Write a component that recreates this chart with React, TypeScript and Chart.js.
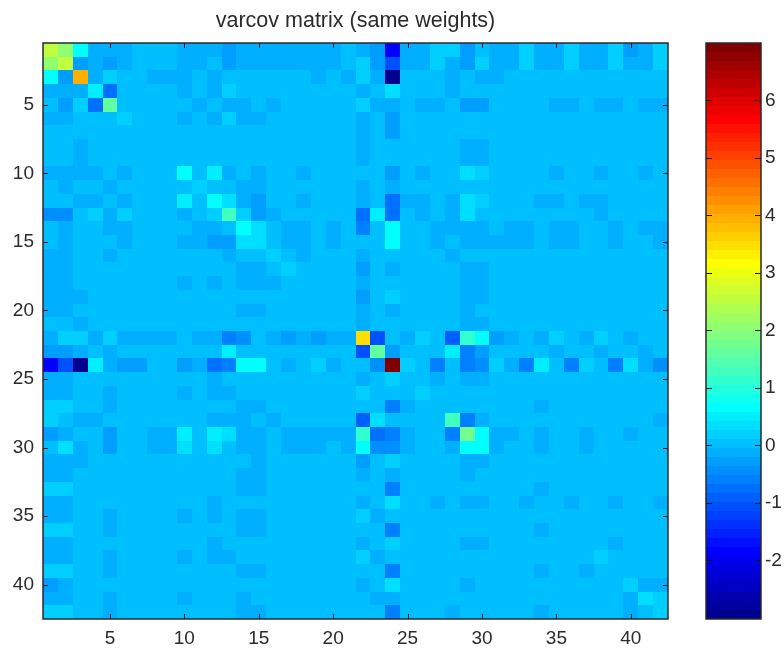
import React, { useEffect, useRef } from "react";
import { Chart, registerables } from "chart.js";

Chart.register(...registerables);

const title = "varcov matrix (same weights)";
const axisTicks = [5, 10, 15, 20, 25, 30, 35, 40];
const yMatrixTicks = [5, 10, 15, 20, 25, 30, 35, 40];
const colorbarTicks = [-2, -1, 0, 1, 2, 3, 4, 5, 6];
const size = 42;
const colorMin = -3.02;
const colorMax = 7;
const levelCount = 64;
const backgroundValue = 0;

// Sparse rows: column -> value; every other cell holds backgroundValue
const r01 = { 1: 2.5, 2: 2, 3: 0.6, 4: -0.1, 5: -0.1, 6: -0.1, 10: -0.1, 11: -0.1, 12: -0.1, 13: -0.25, 14: -0.1, 15: -0.1, 16: -0.1, 17: -0.1, 18: -0.1, 19: -0.1, 20: -0.1, 22: -0.1, 23: -0.25, 24: -1.85, 25: -0.1, 26: -0.1, 27: 0.15, 28: 0.15, 29: -0.25, 31: -0.1, 32: -0.1, 33: 0.15, 34: -0.1, 35: -0.1, 36: 0.15, 37: -0.1, 38: -0.1, 39: 0.15, 40: -0.25, 41: -0.1, 42: 0.15 };
const r02 = { 1: 2, 2: 2.5, 3: -0.25, 4: -0.1, 5: -0.25, 6: -0.1, 10: -0.1, 11: -0.1, 13: -0.25, 14: -0.1, 15: -0.1, 16: -0.1, 17: -0.1, 18: -0.1, 19: -0.1, 20: -0.1, 22: 0.15, 23: -0.25, 24: -1.05, 25: -0.1, 26: -0.1, 27: 0.15, 28: -0.1, 29: -0.25, 30: 0.15, 31: -0.1, 32: -0.1, 33: 0.15, 34: -0.1, 35: -0.1, 36: 0.15, 37: -0.1, 38: -0.1, 39: 0.15, 40: -0.1, 41: -0.1, 42: 0.15 };
const r03 = { 1: 0.6, 2: -0.25, 3: 3.95, 4: -0.1, 5: 0.15, 8: -0.1, 9: -0.1, 10: -0.1, 12: -0.1, 19: -0.1, 21: -0.1, 22: 0.15, 23: -0.1, 24: -2.95, 28: -0.1, 30: -0.1, 31: -0.1 };
const r04 = { 1: -0.1, 2: -0.1, 3: -0.1, 4: 0.5, 5: -0.7, 10: -0.1, 12: -0.1, 13: 0.15, 22: -0.1, 24: 0.4, 28: -0.1 };
const r05 = { 2: -0.25, 3: 0.15, 4: -0.7, 5: 1.6, 11: -0.1, 13: -0.1, 14: -0.1, 16: -0.1, 22: 0.15, 23: -0.1, 24: -0.1, 26: -0.1, 27: -0.1, 29: -0.25, 30: -0.25, 35: -0.1, 36: -0.1, 38: -0.1, 39: -0.1, 41: -0.1, 42: -0.1 };
const r06 = { 1: -0.1, 2: -0.1, 6: 0.15, 10: -0.1, 12: -0.1, 13: 0.15, 14: -0.1, 15: -0.1, 22: -0.1, 24: -0.25 };
const r07 = { 22: -0.1, 24: -0.25 };
const r08 = { 3: -0.1, 22: -0.1, 29: -0.1, 30: -0.1 };
const r09 = { 3: -0.1, 22: -0.1, 29: -0.1, 30: -0.1 };
const r10 = { 1: -0.1, 2: -0.1, 3: -0.1, 4: -0.1, 6: -0.1, 10: 0.6, 12: 0.5, 13: -0.1, 15: -0.1, 18: -0.1, 24: -0.25, 26: -0.1, 29: 0.3, 30: 0.15, 35: -0.1, 38: -0.1, 41: -0.1 };
const r11 = { 2: -0.1, 5: -0.1, 11: 0.15, 14: -0.1, 15: -0.1, 22: -0.1, 24: -0.1 };
const r12 = { 3: -0.1, 4: -0.1, 6: -0.1, 10: 0.5, 12: 0.6, 13: 0.3, 14: -0.1, 15: -0.25, 18: -0.1, 22: -0.1, 24: -0.7, 25: -0.1, 26: -0.1, 28: -0.1, 29: 0.3, 30: 0.15, 34: -0.1, 35: -0.1, 37: -0.1, 38: -0.1 };
const r13 = { 1: -0.4, 2: -0.4, 4: 0.15, 5: -0.1, 6: 0.15, 10: -0.1, 12: 0.15, 13: 1.3, 14: 0.15, 15: -0.25, 16: -0.1, 22: -0.7, 23: 0.5, 24: -0.7, 26: -0.1, 28: -0.1, 29: 0.3, 38: -0.1 };
const r14 = { 2: -0.1, 5: -0.1, 6: -0.1, 11: -0.1, 12: -0.1, 14: 0.6, 15: 0.3, 17: -0.1, 18: -0.1, 20: -0.1, 22: -0.55, 24: 0.6, 27: -0.1, 28: -0.1, 29: -0.1, 30: -0.1, 32: -0.1, 33: -0.1, 35: -0.1, 36: -0.1, 39: -0.1, 41: -0.1, 42: -0.1 };
const r15 = { 2: -0.1, 6: -0.1, 10: -0.1, 11: -0.1, 12: -0.25, 13: -0.25, 14: 0.3, 15: 0.3, 17: -0.1, 18: -0.1, 20: -0.1, 24: 0.6, 27: -0.1, 29: -0.1, 30: -0.1, 31: -0.1, 32: -0.1, 33: -0.1, 35: -0.1, 36: -0.1, 39: -0.1, 42: -0.1 };
const r16 = { 1: -0.1, 2: -0.1, 5: -0.1, 13: -0.1, 16: 0.15, 18: -0.1, 22: -0.1, 28: -0.1 };
const r17 = { 1: -0.1, 2: -0.1, 14: -0.1, 15: -0.1, 17: 0.15, 22: -0.25, 24: -0.1, 29: -0.1, 30: -0.1 };
const r18 = { 1: -0.1, 2: -0.1, 10: -0.1, 12: -0.1, 14: -0.1, 15: -0.1, 16: -0.1, 22: -0.1, 29: -0.1, 30: -0.1 };
const r19 = { 1: -0.1, 2: -0.1, 3: -0.1, 22: -0.25, 24: 0.15, 29: -0.1, 30: -0.1 };
const r20 = { 1: -0.1, 2: -0.1, 14: -0.1, 15: -0.1, 22: -0.1, 24: -0.1, 29: -0.1 };
const r21 = { 3: -0.1, 22: -0.1, 29: -0.1, 30: -0.1 };
const r22 = { 1: -0.1, 2: 0.15, 3: 0.15, 4: -0.1, 5: 0.15, 6: -0.1, 7: -0.1, 8: -0.1, 9: -0.1, 11: -0.1, 12: -0.1, 13: -0.55, 14: -0.4, 16: -0.1, 17: -0.25, 18: -0.1, 19: -0.25, 20: -0.1, 21: -0.1, 22: 3.48, 23: -1.05, 25: -0.1, 26: 0.15, 28: -0.85, 29: 1.1, 30: 0.6, 31: -0.25, 32: -0.1, 34: -0.1, 35: 0.15, 37: -0.1, 38: 0.15, 40: -0.1 };
const r23 = { 1: -0.25, 2: -0.25, 3: -0.1, 5: -0.1, 13: 0.5, 22: -1.05, 23: 1.6, 24: -0.25, 28: 0.5, 29: -0.55, 30: -0.25, 35: -0.1, 38: -0.1, 41: -0.1 };
const r24 = { 1: -1.85, 2: -1.05, 3: -2.95, 4: 0.5, 5: -0.1, 6: -0.25, 7: -0.25, 10: -0.25, 11: -0.1, 12: -0.7, 13: -0.55, 14: 0.6, 15: 0.6, 17: -0.1, 19: 0.15, 20: -0.1, 23: -0.4, 24: 7, 25: 0.15, 27: -0.55, 29: -0.55, 30: -0.4, 31: 0.15, 32: -0.1, 33: -0.55, 34: 0.5, 36: -0.55, 37: 0.15, 39: -0.55, 40: 0.4, 41: -0.1, 42: -0.4 };
const r25 = { 1: -0.1, 2: -0.1, 12: -0.1, 22: -0.1, 24: 0.15, 27: -0.1, 29: -0.1, 30: -0.1 };
const r26 = { 1: -0.1, 2: -0.1, 5: -0.1, 10: -0.1, 12: -0.1, 13: -0.1, 22: 0.15, 26: 0.15 };
const r27 = { 1: 0.15, 2: 0.15, 5: -0.1, 14: -0.1, 15: -0.1, 24: -0.55, 25: -0.1, 34: -0.1 };
const r28 = { 1: 0.15, 3: -0.1, 4: -0.1, 12: -0.1, 13: -0.1, 14: -0.1, 16: -0.1, 22: -0.85, 23: 0.3, 28: 1.3, 29: -0.55, 30: -0.1, 42: -0.1 };
const r29 = { 1: -0.25, 2: -0.1, 5: -0.25, 8: -0.1, 9: -0.1, 10: 0.5, 12: 0.5, 13: 0.3, 14: -0.1, 15: -0.1, 17: -0.1, 18: -0.1, 19: -0.1, 20: -0.1, 21: -0.1, 22: 1.1, 23: -0.7, 24: -0.55, 25: -0.1, 28: -0.55, 29: 1.7, 30: 0.6, 31: -0.1, 32: -0.1, 34: -0.1, 37: -0.1, 40: -0.1 };
const r30 = { 2: 0.3, 3: -0.1, 5: -0.25, 8: -0.1, 9: -0.1, 10: 0.3, 12: 0.3, 14: -0.1, 15: -0.1, 17: -0.1, 18: -0.1, 19: -0.1, 21: -0.1, 22: 0.6, 23: -0.4, 24: -0.4, 25: -0.1, 28: -0.1, 29: 0.6, 30: 0.6, 31: -0.1, 34: -0.1, 37: -0.1 };
const r31 = { 1: -0.1, 2: -0.1, 3: -0.1, 15: -0.1, 22: -0.25, 24: 0.15, 29: -0.1, 30: -0.1 };
const r32 = { 1: -0.1, 2: -0.1, 14: -0.1, 15: -0.1, 22: -0.1, 24: -0.1, 29: -0.1 };
const r33 = { 1: 0.15, 2: 0.15, 14: -0.1, 15: -0.1, 24: -0.55, 34: -0.1 };
const r34 = { 1: -0.1, 2: -0.1, 12: -0.1, 22: -0.1, 24: 0.4, 27: -0.1, 29: -0.1, 30: -0.1, 33: -0.1, 36: -0.1, 39: -0.1, 42: -0.1 };
const r35 = { 1: -0.1, 2: -0.1, 5: -0.1, 10: -0.1, 12: -0.1, 14: -0.1, 15: -0.1, 22: 0.15, 23: -0.1 };
const r36 = { 1: 0.15, 2: 0.15, 5: -0.1, 14: -0.1, 15: -0.1, 24: -0.55, 34: -0.1 };
const r37 = { 1: -0.1, 2: -0.1, 12: -0.1, 22: -0.1, 24: 0.15, 29: -0.1, 30: -0.1, 39: -0.1 };
const r38 = { 1: -0.1, 2: -0.1, 5: -0.1, 10: -0.1, 12: -0.1, 13: -0.1, 22: 0.15, 23: -0.1, 38: 0.15 };
const r39 = { 1: 0.15, 2: 0.15, 5: -0.1, 14: -0.1, 15: -0.1, 24: -0.55, 34: -0.1, 37: -0.1 };
const r40 = { 1: -0.25, 2: -0.1, 22: -0.1, 24: 0.3, 29: -0.1, 40: 0.15, 41: -0.1, 42: -0.1 };
const r41 = { 1: -0.1, 2: -0.1, 5: -0.1, 10: -0.1, 14: -0.1, 23: -0.1, 24: -0.1, 40: -0.1, 41: 0.3, 42: 0.15 };
const r42 = { 1: 0.15, 2: 0.15, 5: -0.1, 14: -0.1, 15: -0.1, 24: -0.55, 28: -0.1, 34: -0.1, 40: -0.1, 42: 0.15 };
const sparseRows: Record<number, number>[] = [r01, r02, r03, r04, r05, r06, r07, r08, r09, r10, r11, r12, r13, r14, r15, r16, r17, r18, r19, r20, r21, r22, r23, r24, r25, r26, r27, r28, r29, r30, r31, r32, r33, r34, r35, r36, r37, r38, r39, r40, r41, r42];

const FRAME = "#2a2a2a";
const TEXT = "#2b2b2b";
const FONT = { family: "'Liberation Sans', Arial, sans-serif", size: 19, weight: "normal" as const };

function jetU(k: number): number {
  if (k < 1 || k > 47) return 0;
  if (k <= 16) return k / 16;
  if (k <= 31) return 1;
  return (48 - k) / 16;
}
function jetLevel(i: number): string {
  const n = i + 1;
  const c = (v: number) => Math.round(v * 255);
  return `rgb(${c(jetU(n - 24))},${c(jetU(n - 8))},${c(jetU(n + 8))})`;
}
function colorFor(v: number): string {
  const idx = Math.floor(((v - colorMin) / (colorMax - colorMin)) * levelCount);
  return jetLevel(Math.max(0, Math.min(levelCount - 1, idx)));
}

const matrixPoints: { x: number; y: number; v: number }[] = [];
sparseRows.forEach((row, r) => {
  for (let c = 1; c <= size; c++) {
    matrixPoints.push({ x: c, y: r + 1, v: row[c] ?? backgroundValue });
  }
});
const levelPoints = Array.from({ length: levelCount }, (_, i) => ({
  x: 0,
  y: colorMin + ((i + 0.5) * (colorMax - colorMin)) / levelCount,
  i,
}));

const cellPlugin = {
  id: "cells",
  beforeDatasetsDraw(chart: any) {
    const { ctx, scales } = chart;
    const pts = chart.data.datasets[0].data as any[];
    const isBar = chart.options.plugins.cells.colorbar;
    ctx.save();
    for (const p of pts) {
      let x0, x1, y0, y1;
      if (isBar) {
        const half = (colorMax - colorMin) / levelCount / 2;
        x0 = chart.chartArea.left;
        x1 = chart.chartArea.right;
        y0 = scales.y.getPixelForValue(p.y + half);
        y1 = scales.y.getPixelForValue(p.y - half);
        ctx.fillStyle = jetLevel(p.i);
      } else {
        x0 = scales.x.getPixelForValue(p.x - 0.5);
        x1 = scales.x.getPixelForValue(p.x + 0.5);
        y0 = scales.y.getPixelForValue(p.y - 0.5);
        y1 = scales.y.getPixelForValue(p.y + 0.5);
        ctx.fillStyle = colorFor(p.v);
      }
      const l = Math.round(x0), r = Math.round(x1), t = Math.round(y0), b = Math.round(y1);
      ctx.fillRect(l, t, r - l, b - t);
    }
    ctx.restore();
  },
  afterDatasetsDraw(chart: any) {
    const { ctx, chartArea: a, scales } = chart;
    const len = chart.options.plugins.cells.tickLength;
    ctx.save();
    ctx.strokeStyle = "#111";
    ctx.lineWidth = 1;
    ctx.beginPath();
    for (const t of scales.y.ticks) {
      const y = Math.round(scales.y.getPixelForValue(t.value)) + 0.5;
      ctx.moveTo(a.left, y);
      ctx.lineTo(a.left + len, y);
      ctx.moveTo(a.right, y);
      ctx.lineTo(a.right - len, y);
    }
    if (scales.x.options.display) {
      for (const t of scales.x.ticks) {
        const x = Math.round(scales.x.getPixelForValue(t.value)) + 0.5;
        ctx.moveTo(x, a.top);
        ctx.lineTo(x, a.top + len);
        ctx.moveTo(x, a.bottom);
        ctx.lineTo(x, a.bottom - len);
      }
    }
    ctx.stroke();
    ctx.strokeStyle = FRAME;
    ctx.lineWidth = 1.5;
    ctx.strokeRect(a.left, a.top, a.right - a.left, a.bottom - a.top);
    ctx.restore();
  },
};

const canvasStyle: React.CSSProperties = { position: "absolute", left: 0, top: 0, width: 784, height: 648 };

export default function App() {
  const matrixRef = useRef<HTMLCanvasElement>(null);
  const barRef = useRef<HTMLCanvasElement>(null);

  useEffect(() => {
    const matrix = new Chart(matrixRef.current!, {
      type: "scatter",
      data: { datasets: [{ data: matrixPoints, pointRadius: 0, pointHitRadius: 0 }] },
      plugins: [cellPlugin],
      options: {
        animation: false,
        responsive: false,
        events: [],
        layout: { padding: { right: 116, left: 0, top: 0, bottom: 0 } },
        plugins: {
          legend: { display: false },
          tooltip: { enabled: false },
          title: {
            display: true,
            text: title,
            fullSize: false,
            color: TEXT,
            font: { family: FONT.family, size: 21.5, weight: "normal" },
            padding: { top: 8, bottom: 9.2 },
          },
          cells: { colorbar: false, tickLength: 5 },
        } as any,
        scales: {
          x: {
            type: "linear",
            min: 0.5,
            max: size + 0.5,
            grid: { display: false, drawTicks: false },
            border: { display: false },
            afterBuildTicks: (s: any) => { s.ticks = axisTicks.map((value) => ({ value })); },
            afterFit: (s: any) => { s.height = 29; },
            ticks: { color: TEXT, font: FONT, padding: 8.5, autoSkip: false, maxRotation: 0, callback: (v: any) => String(v) },
          },
          y: {
            type: "linear",
            reverse: true,
            min: 0.5,
            max: size + 0.5,
            grid: { display: false, drawTicks: false },
            border: { display: false },
            afterBuildTicks: (s: any) => { s.ticks = yMatrixTicks.map((value) => ({ value })); },
            afterFit: (s: any) => { s.width = 43; },
            ticks: { color: TEXT, font: FONT, padding: 9, autoSkip: false, callback: (v: any) => String(v) },
          },
        },
      },
    });

    const bar = new Chart(barRef.current!, {
      type: "scatter",
      data: { datasets: [{ data: levelPoints, pointRadius: 0, pointHitRadius: 0 }] },
      plugins: [cellPlugin],
      options: {
        animation: false,
        responsive: false,
        events: [],
        layout: { padding: { left: 706, top: 43, bottom: 29, right: 0 } },
        plugins: {
          legend: { display: false },
          tooltip: { enabled: false },
          title: { display: false },
          cells: { colorbar: true, tickLength: 6 },
        } as any,
        scales: {
          x: { type: "linear", display: false, min: -1, max: 1 },
          y: {
            type: "linear",
            position: "right",
            min: colorMin,
            max: colorMax,
            grid: { display: false, drawTicks: false },
            border: { display: false },
            afterBuildTicks: (s: any) => { s.ticks = colorbarTicks.map((value) => ({ value })); },
            afterFit: (s: any) => { s.width = 784 - 761; },
            ticks: { color: TEXT, font: FONT, padding: 4, autoSkip: false, callback: (v: any) => String(v) },
          },
        },
      },
    });

    return () => {
      matrix.destroy();
      bar.destroy();
    };
  }, []);

  return (
    <div style={{ position: "absolute", left: 0, top: 0, width: 784, height: 648, background: "#fff" }}>
      <canvas ref={matrixRef} width={784} height={648} style={canvasStyle} />
      <canvas ref={barRef} width={784} height={648} style={canvasStyle} />
    </div>
  );
}
